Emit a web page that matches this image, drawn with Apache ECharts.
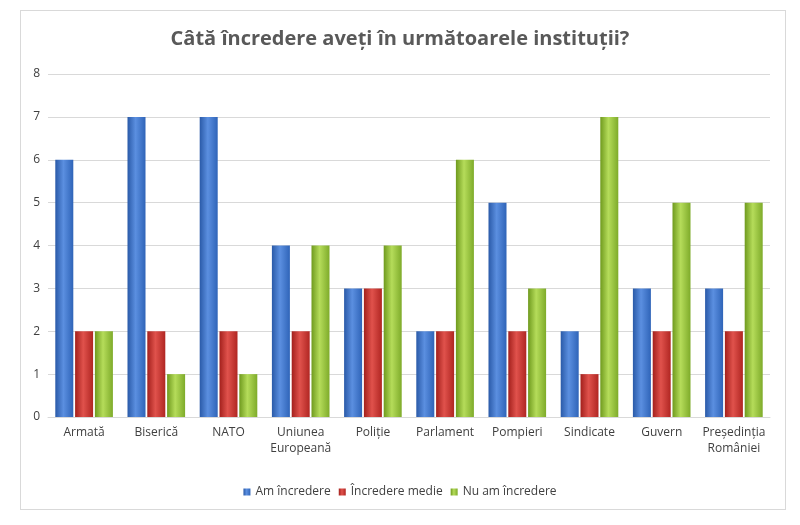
<!DOCTYPE html>
<html lang="ro">
<head>
<meta charset="UTF-8">
<title>Încredere în instituții</title>
<script src="https://cdn.jsdelivr.net/npm/echarts@6/dist/echarts.min.js"></script>
<style>
  html, body { margin: 0; padding: 0; background: #fff; }
  #frame { position: absolute; left: 20px; top: 10px; width: 764px; height: 498px; border: 1px solid #d9d9d9; }
  #main { width: 800px; height: 525px; }
</style>
</head>
<body>
<div id="frame"></div>
<div id="main"></div>
<script type="text/javascript">
  // date
  const categories = ['Armată', 'Biserică', 'NATO', 'Uniunea\nEuropeană', 'Poliție', 'Parlament', 'Pompieri', 'Sindicate', 'Guvern', 'Președinția\nRomâniei'];
  const amIncredere = [6, 7, 7, 4, 3, 2, 5, 2, 3, 3];
  const incredereMedie = [2, 2, 2, 2, 3, 2, 2, 1, 2, 2];
  const nuAmIncredere = [2, 1, 1, 4, 4, 6, 3, 7, 5, 5];

  function grad(dark, mid, light) {
    return new echarts.graphic.LinearGradient(0, 0, 1, 0, [
      { offset: 0, color: dark },
      { offset: 0.45, color: light },
      { offset: 1, color: mid }
    ]);
  }

  const chart = echarts.init(document.getElementById('main'));
  const option = {
    animation: false,
    textStyle: { fontFamily: 'Open Sans, Noto Sans, sans-serif' },
    title: {
      text: 'Câtă încredere aveți în următoarele instituții?',
      left: 'center',
      top: 24,
      textStyle: { fontSize: 20, fontWeight: 'bold', color: '#595959' }
    },
    legend: {
      bottom: 22,
      itemWidth: 7,
      itemHeight: 7,
      icon: 'rect',
      textStyle: { fontSize: 12, color: '#404040' },
      data: ['Am încredere', 'Încredere medie', 'Nu am încredere']
    },
    grid: { left: 48, right: 30, top: 74, bottom: 108 },
    xAxis: {
      type: 'category',
      data: categories,
      axisTick: { show: false },
      axisLine: { lineStyle: { color: '#d9d9d9' } },
      axisLabel: { color: '#404040', fontSize: 12, interval: 0, lineHeight: 16 }
    },
    yAxis: {
      type: 'value',
      min: 0,
      max: 8,
      interval: 1,
      axisLabel: { color: '#404040', fontSize: 12 },
      splitLine: { lineStyle: { color: '#d9d9d9' } }
    },
    series: [
      {
        name: 'Am încredere', type: 'bar', data: amIncredere,
        barWidth: 18, barGap: '10%',
        itemStyle: { color: grad('#2a5aa8', '#2f64b8', '#5b8fe0') }
      },
      {
        name: 'Încredere medie', type: 'bar', data: incredereMedie,
        barWidth: 18,
        itemStyle: { color: grad('#a3201c', '#b02622', '#e0524c') }
      },
      {
        name: 'Nu am încredere', type: 'bar', data: nuAmIncredere,
        barWidth: 18,
        itemStyle: { color: grad('#6f9a1e', '#7eab2a', '#b5dc5a') }
      }
    ]
  };
  chart.setOption(option);
</script>
</body>
</html>
